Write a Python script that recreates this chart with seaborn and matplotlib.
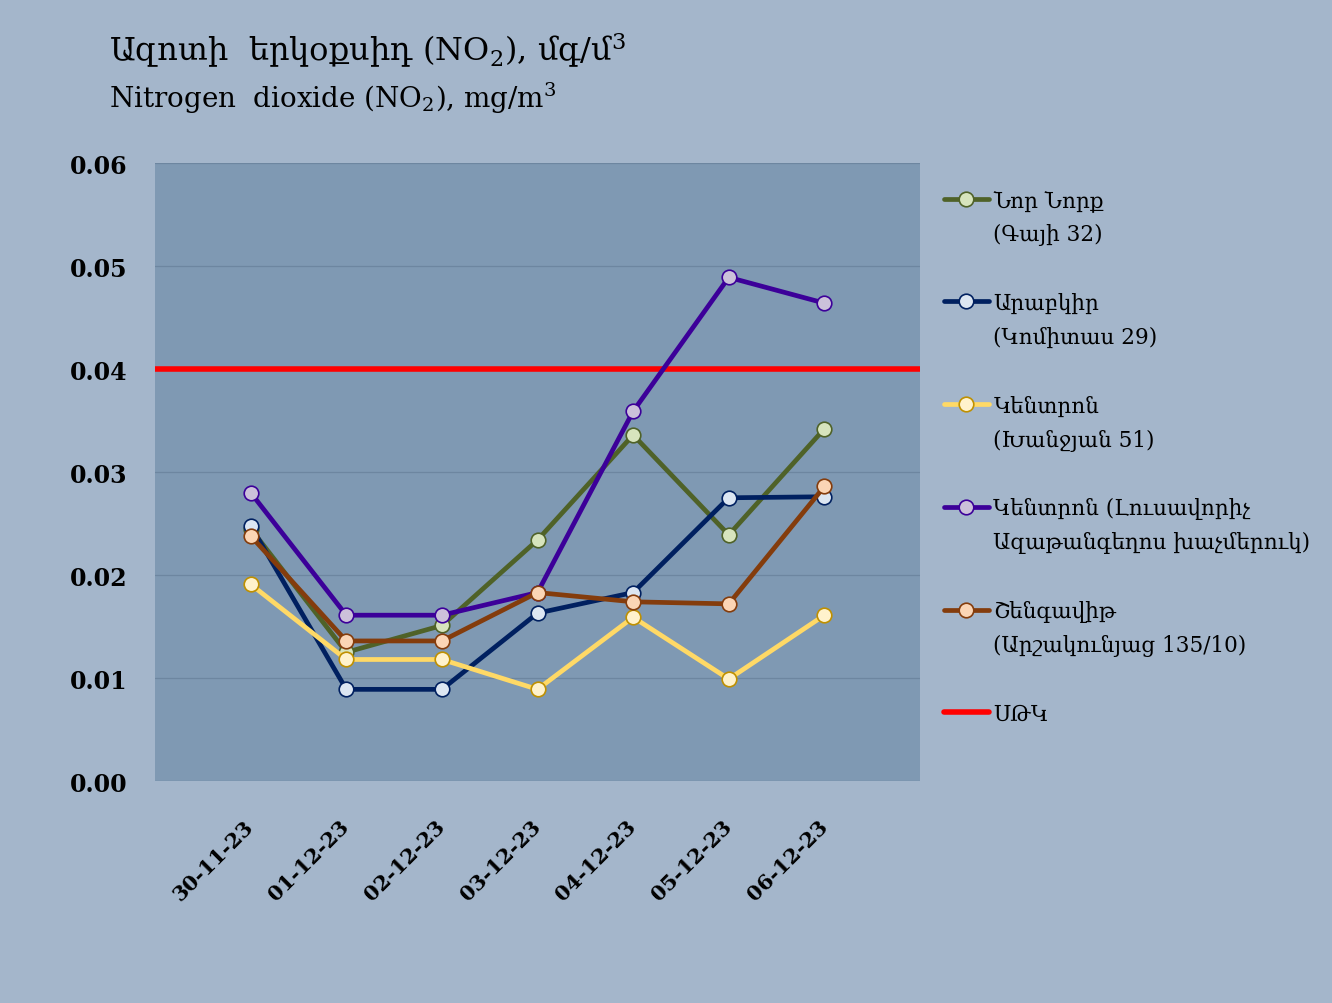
import numpy as np
import pandas as pd
import matplotlib
matplotlib.use("Agg")
import matplotlib.pyplot as plt
import seaborn as sns

# dates on the x axis
dates = ["30-11-23", "01-12-23", "02-12-23", "03-12-23", "04-12-23", "05-12-23", "06-12-23"]

# NO2 values, mg/m3
nor_nork = [0.0245, 0.0125, 0.0151, 0.0234, 0.0336, 0.0239, 0.0342]
arabkir = [0.0248, 0.0089, 0.0089, 0.0163, 0.0183, 0.0275, 0.0276]
kentron_kh = [0.0191, 0.0118, 0.0118, 0.0089, 0.0159, 0.0099, 0.0161]
kentron_l = [0.0280, 0.0161, 0.0161, 0.0183, 0.0359, 0.0489, 0.0464]
shengavit = [0.0238, 0.0136, 0.0136, 0.0183, 0.0174, 0.0172, 0.0286]
limit = 0.04  # ՍԹԿ

names = ["Նոր Նորք", "Արաբկիր", "Կենտրոն", "Կենտրոն (Լուսավորիչ", "Շենգավիթ"]
addresses = ["(Գայի 32)", "(Կոմիտաս 29)", "(Խանջյան 51)",
             "Ազաթանգեղոս խաչմերուկ)", "(Արշակունյաց 135/10)"]

series = [nor_nork, arabkir, kentron_kh, kentron_l, shengavit]
line_colors = ["#4f6228", "#002060", "#ffd966", "#3c0099", "#843c0c"]
face_colors = ["#d7e4bd", "#dce6f2", "#fff2cc", "#ccc1da", "#fbd5b5"]
edge_colors = ["#4f6228", "#002060", "#bf9000", "#3c0099", "#843c0c"]

sns.set_theme(style="white")
plt.rcParams["font.family"] = ["DejaVu Serif", "DejaVu Sans"]
plt.rcParams["mathtext.fontset"] = "dejavuserif"
plt.rcParams["text.color"] = "black"
plt.rcParams["xtick.color"] = "black"
plt.rcParams["ytick.color"] = "black"

fig = plt.figure(figsize=(13.32, 10.04), dpi=100)
fig.patch.set_facecolor("#a4b6cb")
ax = fig.add_axes([0.1164, 0.2211, 0.5743, 0.6155])
ax.set_facecolor("#7f99b3")

x = np.arange(len(dates))
for vals, lab, lc, fc, ec in zip(series, names, line_colors, face_colors, edge_colors):
    df = pd.DataFrame({"x": x, "y": vals})
    sns.lineplot(data=df, x="x", y="y", ax=ax, color=lc, linewidth=3.4,
                 marker="o", markersize=10.5, markerfacecolor=fc,
                 markeredgecolor=ec, markeredgewidth=1.2, label=lab)

ax.axhline(limit, color="#ff0000", linewidth=4, label="ՍԹԿ", zorder=1.5)

ax.set_xlim(-1, 7)
ax.set_ylim(0, 0.06)
yt = np.arange(0, 0.061, 0.01)
ax.set_yticks(yt)
ax.set_yticklabels([f"{v:.2f}" for v in yt], fontsize=17, fontweight="bold")
ax.set_xticks(x)
ax.set_xticklabels(dates, rotation=45, ha="right", va="center",
                   rotation_mode="anchor", fontsize=15, fontweight="bold")
ax.tick_params(axis="x", length=0, pad=30)
ax.tick_params(axis="y", length=0, pad=20)
ax.grid(axis="y", color="#6d86a0", linewidth=0.9)
ax.set_axisbelow(True)
for s in ax.spines.values():
    s.set_visible(False)
ax.set_xlabel("")
ax.set_ylabel("")

fig.text(0.082, 0.95, "Ազոտի  երկօքսիդ (NO$_2$), մգ/մ$^3$", fontsize=23,
         ha="left", va="center")
fig.text(0.082, 0.902, "Nitrogen  dioxide (NO$_2$), mg/m$^3$", fontsize=20,
         ha="left", va="center")

leg = ax.legend(loc="upper left", bbox_to_anchor=(0.694, 0.83),
                bbox_transform=fig.transFigure, frameon=False,
                prop={"size": 15.5},
                handlelength=2.1, handletextpad=0.2, labelspacing=3.75)

# second line of each legend entry goes right under the first
fig.canvas.draw()
inv = fig.transFigure.inverted()
for t, addr in zip(leg.get_texts(), addresses):
    bb = t.get_window_extent()
    x0, y0 = inv.transform((bb.x0, bb.y0 - 12))
    fig.text(x0, y0, addr, fontsize=15.5, ha="left", va="top")

fig.savefig("out.png", dpi=100, facecolor=fig.get_facecolor())
